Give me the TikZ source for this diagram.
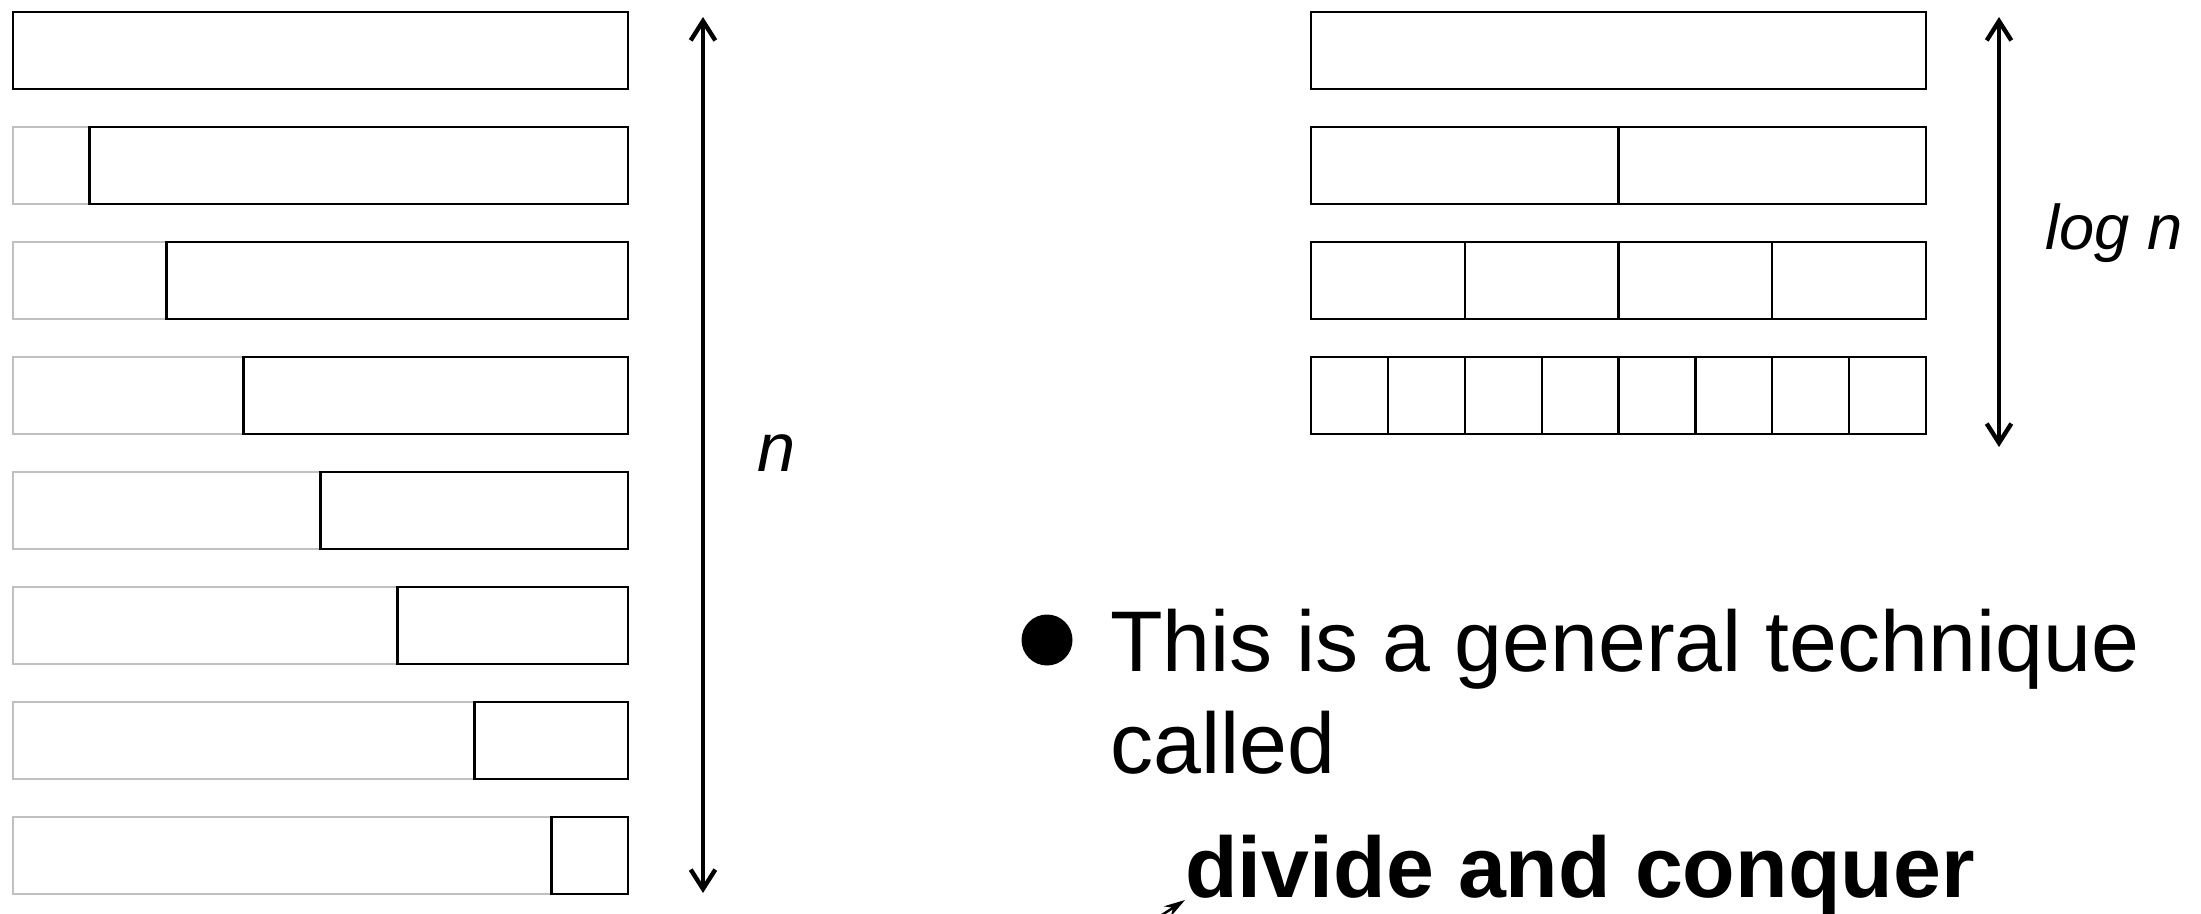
\documentclass[tikz,border=0pt]{standalone}
\usepackage{fontspec}
\setmainfont{Liberation Sans}
\usetikzlibrary{arrows.meta}
\definecolor{fadeframe}{RGB}{192,192,192}
\begin{document}
\begin{tikzpicture}[x=0.02cm, y=-0.02cm,
  boxline/.style={draw=black, line width=1.6pt},
  fadebox/.style={draw=fadeframe, line width=1.6pt},
  divline/.style={draw=black, line width=1.3pt},
  dimarrow/.style={line width=2.5pt,
    {Straight Barb[length=11pt,width=14pt]}-{Straight Barb[length=11pt,width=14pt]}},
  bodytext/.style={inner sep=0pt, anchor=base west, font=\fontsize{49pt}{58pt}\selectfont},
  boldtext/.style={inner sep=0pt, anchor=base west, font=\fontsize{49pt}{58pt}\selectfont\bfseries},
  dimlabel/.style={inner sep=0pt, anchor=base west, font=\itshape}]
\useasboundingbox (0,0) rectangle (2201,913);

% left column: shrinking windows
\foreach \k in {0,...,7} {
  \pgfmathsetmacro\rowtop{12+115*\k}
  \pgfmathsetmacro\xs{13+76.875*\k}
  \draw[fadebox] (13,\rowtop) rectangle (628,{\rowtop+77});
  \draw[boxline] (\xs,\rowtop) rectangle (628,{\rowtop+77});
}

% right column: halving
\foreach \k in {0,...,3} {
  \pgfmathsetmacro\rowtop{12+115*\k}
  \pgfmathtruncatemacro\parts{2^\k}
  \pgfmathtruncatemacro\pmo{\parts-1}
  \draw[boxline] (1311,\rowtop) rectangle (1926,{\rowtop+77});
  \ifnum\k>0
    \foreach \j in {1,...,\pmo} {
      \pgfmathsetmacro\dx{1311+615*\j/\parts}
      \draw[divline] (\dx,\rowtop) -- (\dx,{\rowtop+77});
    }
  \fi
}

% dimension arrows
\coordinate (nTop) at (703,17);
\coordinate (nBot) at (703,893);
\draw[dimarrow] (nTop) -- (nBot);
\node[dimlabel, font=\fontsize{39pt}{46pt}\selectfont\itshape] (nlab) at (757,471) {n};

\coordinate (lTop) at (1999,17);
\coordinate (lBot) at (1999,447);
\draw[dimarrow] (lTop) -- (lBot);
\node[dimlabel, font=\fontsize{36pt}{42pt}\selectfont\itshape] (logn) at (2045,249) {log n};

% bullet text
\node[circle, fill=black, inner sep=0pt, minimum size=1.02cm] (bullet) at (1047,640) {};
\node[bodytext] (line1) at (1110,671) {This is a general technique};
\node[bodytext] (line2) at (1110,773) {called};
\node[boldtext] (dc) at (1185,897) {divide and conquer};

% partial pointer at the bottom edge
\begin{scope}
  \clip (0,0) rectangle (2201,913);
  \coordinate (mkTail) at (1148,924);
  \coordinate (mkTip) at (1185,900);
  \draw[line width=1.4pt, -{Stealth[length=12pt,width=7pt]}] (mkTail) -- (mkTip);
\end{scope}
\end{tikzpicture}
\end{document}
